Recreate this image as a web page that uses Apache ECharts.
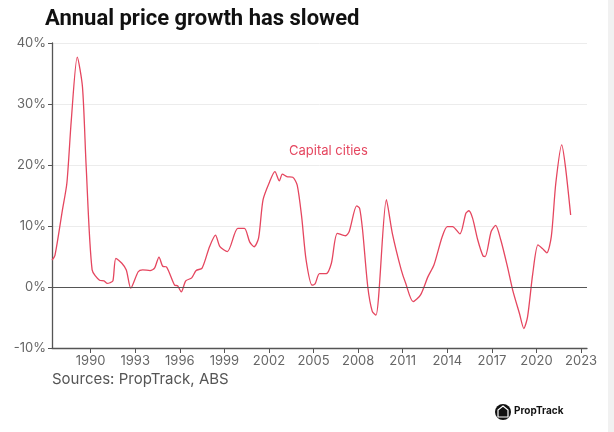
<!DOCTYPE html>
<html>
<head>
<meta charset="utf-8">
<script src="https://cdn.jsdelivr.net/npm/echarts@6/dist/echarts.min.js"></script>
<style>
html,body{margin:0;padding:0;background:#fff;}
#c{width:614px;height:432px;}
</style>
</head>
<body>
<div id="c"></div>
<script>
var title = 'Annual price growth has slowed';
var seriesName = 'Capital cities';
var source = 'Sources: PropTrack, ABS';
var xTickYears = [1990, 1993, 1996, 1999, 2002, 2005, 2008, 2011, 2014, 2017, 2020, 2023];
var yTicks = [-10, 0, 10, 20, 30, 40];
var years = [1987.4,1987.6,1988.1,1988.4,1988.7,1989.1,1989.45,1989.7,1990.1,1990.6,1990.9,1991.1,1991.3,1991.5,1991.7,1992.1,1992.4,1992.7,1993.2,1993.5,1994.0,1994.3,1994.6,1994.85,1995.1,1995.65,1995.85,1996.1,1996.4,1996.8,1997.1,1997.5,1998.0,1998.4,1998.7,1999.2,1999.9,2000.35,2000.7,2001.0,2001.3,2001.6,2002.05,2002.4,2002.7,2002.9,2003.2,2003.6,2003.9,2004.2,2004.5,2004.9,2005.1,2005.4,2005.85,2006.2,2006.6,2007.15,2007.4,2007.9,2008.1,2008.3,2008.65,2008.95,2009.2,2009.9,2010.3,2010.9,2011.2,2011.7,2012.2,2012.7,2013.1,2013.65,2014.0,2014.35,2014.85,2015.25,2015.45,2015.7,2016.05,2016.4,2016.55,2016.95,2017.25,2017.6,2018.05,2018.4,2018.85,2019.15,2019.4,2019.75,2020.1,2020.4,2020.7,2021.0,2021.3,2021.7,2021.95,2022.3];
var growth = [4.4,5.2,12.6,17.0,27.4,37.7,32.8,19.7,2.8,1.1,1.0,0.6,0.7,1.0,4.7,3.9,2.8,-0.2,2.5,2.8,2.7,3.1,4.9,3.4,3.3,0.3,0.2,-0.8,1.0,1.5,2.7,3.1,6.6,8.5,6.6,5.8,9.6,9.6,7.4,6.6,8.0,14.3,17.3,18.9,17.4,18.5,18.1,18.0,16.7,11.5,4.4,0.3,0.5,2.2,2.2,3.9,8.8,8.4,9.1,13.3,12.9,9.3,0.0,-4.0,-4.6,14.3,8.8,2.8,0.6,-2.4,-1.3,1.7,3.6,8.2,9.9,9.9,8.7,12.1,12.5,11.3,7.7,5.1,5.0,9.1,10.1,7.7,3.3,-0.5,-4.3,-6.8,-4.9,2.2,6.9,6.3,5.6,8.3,17.0,23.3,19.7,11.8];

var data = years.map(function(y, i){ return [y, growth[i]]; });
var chart = echarts.init(document.getElementById('c'), null, {renderer:'canvas'});
var lineColor = '#e5465f';
var axisGray = '#555';
chart.setOption({
  animation: false,
  backgroundColor: '#fff',
  title: {
    text: title, left: 45, top: 8, padding: 0,
    textStyle: {fontFamily: 'Roboto', fontWeight: 'bold', fontSize: 22, color: '#111'}
  },
  grid: {left: 52, right: 27, top: 43, bottom: 84},
  xAxis: {
    type: 'value', min: 1987.4, max: 2023.4,
    splitLine: {show: false},
    axisLine: {show: true, onZero: false, lineStyle: {color: axisGray, width: 1.3}},
    axisTick: {show: true, customValues: xTickYears, length: 5, lineStyle: {color: axisGray}},
    axisLabel: {customValues: xTickYears, color: '#666', fontFamily: 'Inter', fontSize: 13, margin: 7,
      formatter: function(v){ return String(Math.round(v)); }}
  },
  yAxis: {
    type: 'value', min: -10, max: 40, interval: 10,
    axisLine: {show: true, lineStyle: {color: axisGray, width: 1.3}},
    axisTick: {show: true, length: 4, lineStyle: {color: axisGray}},
    splitLine: {show: true, lineStyle: {color: '#ececec', width: 1}},
    axisLabel: {color: '#666', fontFamily: 'Inter', fontSize: 13, margin: 6,
      formatter: function(v){ return v + '%'; }}
  },
  series: [{
    name: seriesName, type: 'line', data: data, showSymbol: false, smooth: 0.25,
    lineStyle: {color: lineColor, width: 1.3},
    markLine: {
      silent: true, symbol: 'none', label: {show: false},
      lineStyle: {color: '#555', type: 'solid', width: 1.2},
      data: [{yAxis: 0}]
    },
    z: 3
  }],
  graphic: [
    {type: 'text', left: 289, top: 145, style: {text: seriesName, fill: lineColor, font: '13px Inter'}},
    {type: 'text', left: 52, top: 372, style: {text: source, fill: '#555', font: '15px Inter'}},
    {type: 'circle', shape: {cx: 503, cy: 412, r: 8}, style: {fill: '#111'}},
    {type: 'polygon', shape: {points: [[503,406],[508,410],[508,417],[498,417],[498,410]]}, style: {fill: 'none', stroke: '#fff', lineWidth: 1.2}},
    {type: 'text', left: 514, top: 406, style: {text: 'PropTrack', fill: '#111', font: 'bold 10px Inter'}},
    {type: 'rect', shape: {x: 608, y: 0, width: 6, height: 432}, style: {fill: '#f1f1f1'}}
  ]
});
</script>
</body>
</html>
